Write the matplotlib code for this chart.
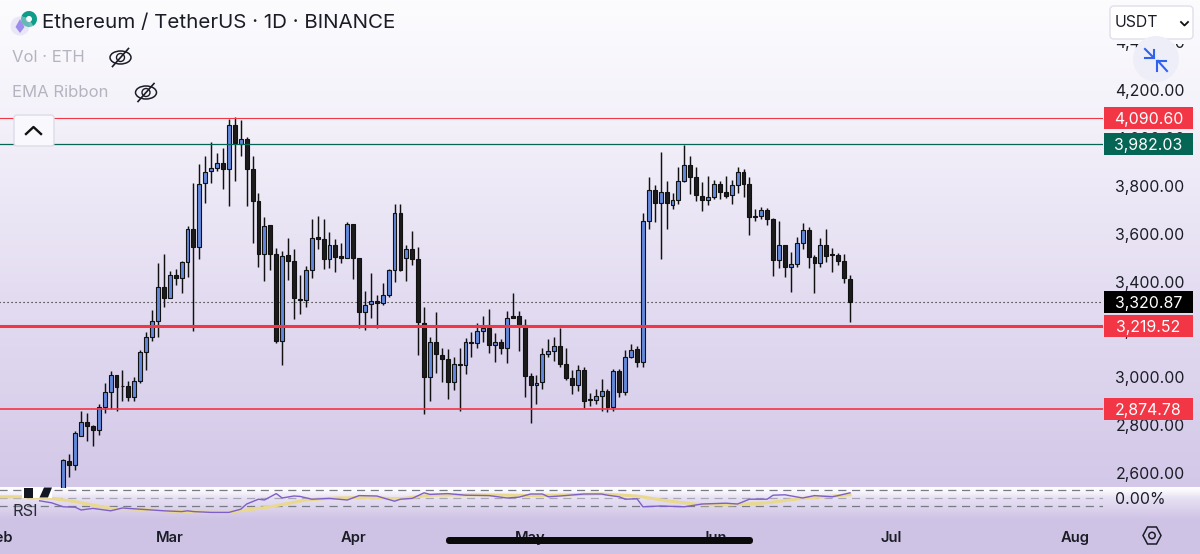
import numpy as np
import matplotlib
matplotlib.use("Agg")
import matplotlib.pyplot as plt
from matplotlib.patches import Rectangle, FancyBboxPatch, Circle, Ellipse, Polygon, Wedge
from matplotlib.transforms import ScaledTranslation

plt.rcParams['font.family'] = ['Inter', 'DejaVu Sans']

# daily candles, day 0 = 12 Feb
opens = [2500, 2658, 2642, 2762, 2820, 2802, 2788, 2881, 2946, 3015, 2972, 2969, 2923, 2993, 3114, 3177, 3243, 3383, 3340, 3433,
         3423, 3487, 3627, 3553, 3818, 3868, 3882, 3904, 3879, 4063, 3982, 4002, 3879, 3742, 3524, 3643, 3521, 3160, 3517, 3493,
         3335, 3330, 3455, 3592, 3586, 3501, 3559, 3513, 3507, 3646, 3504, 3279, 3312, 3325, 3319, 3350, 3455, 3695, 3507, 3543,
         3501, 3235, 3007, 3154, 3101, 3085, 2986, 3064, 3058, 3154, 3149, 3200, 3214, 3142, 3154, 3131, 3263, 3263, 3225, 3014,
         2973, 2986, 3104, 3117, 3136, 3062, 3005, 2975, 3036, 2916, 2912, 2930, 2950, 2882, 3032, 2946, 3092, 3124, 3071, 3661,
         3788, 3737, 3783, 3728, 3748, 3826, 3893, 3844, 3766, 3749, 3762, 3815, 3780, 3767, 3811, 3865, 3813, 3682, 3681, 3705,
         3668, 3497, 3559, 3469, 3480, 3568, 3622, 3511, 3483, 3559, 3521, 3518, 3494, 3419]
closes = [2660, 2642, 2775, 2820, 2802, 2788, 2881, 2944, 3015, 2968, 2969, 2923, 2993, 3113, 3175, 3241, 3383, 3340, 3433, 3423,
          3487, 3627, 3553, 3816, 3866, 3882, 3904, 3879, 4063, 3985, 4002, 3879, 3742, 3524, 3640, 3521, 3160, 3515, 3493, 3337,
          3330, 3455, 3589, 3586, 3501, 3559, 3511, 3507, 3646, 3505, 3279, 3309, 3326, 3319, 3350, 3455, 3695, 3455, 3543, 3503,
          3237, 3007, 3154, 3103, 3085, 2986, 3062, 3060, 3156, 3149, 3200, 3214, 3142, 3154, 3131, 3255, 3255, 3225, 3014, 2973,
          2984, 3103, 3116, 3136, 3062, 3005, 2975, 3036, 2909, 2912, 2930, 2950, 2882, 3032, 2946, 3090, 3122, 3071, 3660, 3788,
          3737, 3783, 3737, 3747, 3826, 3893, 3844, 3767, 3749, 3760, 3815, 3781, 3766, 3809, 3865, 3815, 3677, 3678, 3705, 3670,
          3497, 3559, 3469, 3480, 3568, 3622, 3511, 3483, 3559, 3514, 3517, 3494, 3421, 3322]
highs = [2664, 2686, 2784, 2867, 2856, 2808, 2895, 2984, 3032, 3018, 3037, 2993, 3007, 3121, 3195, 3288, 3486, 3522, 3450, 3461,
         3494, 3639, 3820, 3898, 3932, 3991, 3943, 3964, 4085, 4093, 4082, 4010, 3932, 3778, 3676, 3643, 3546, 3536, 3588, 3542,
         3436, 3472, 3667, 3681, 3667, 3613, 3584, 3567, 3656, 3646, 3505, 3369, 3444, 3350, 3400, 3461, 3730, 3730, 3560, 3617,
         3553, 3302, 3174, 3279, 3128, 3124, 3093, 3128, 3170, 3196, 3235, 3263, 3294, 3191, 3166, 3283, 3358, 3285, 3249, 3024,
         3018, 3128, 3167, 3174, 3213, 3129, 3037, 3058, 3049, 2943, 2957, 2998, 2957, 3040, 3040, 3121, 3145, 3138, 3695, 3843,
         3811, 3948, 3828, 3778, 3885, 3978, 3932, 3887, 3824, 3848, 3831, 3828, 3848, 3831, 3885, 3879, 3843, 3709, 3720, 3714,
         3673, 3659, 3561, 3532, 3592, 3650, 3636, 3517, 3588, 3625, 3546, 3525, 3521, 3434]
lows = [2470, 2591, 2620, 2762, 2742, 2720, 2766, 2859, 2876, 2867, 2908, 2907, 2907, 2984, 3037, 3160, 3177, 3299, 3337, 3391,
        3360, 3425, 3202, 3500, 3737, 3820, 3870, 3793, 3723, 3828, 3932, 3723, 3569, 3469, 3411, 3455, 3152, 3058, 3414, 3252,
        3271, 3299, 3421, 3544, 3461, 3465, 3447, 3486, 3505, 3416, 3212, 3205, 3253, 3212, 3308, 3341, 3406, 3450, 3411, 3476,
        3100, 2854, 2909, 3026, 2988, 2916, 2954, 2867, 3021, 3090, 3131, 3153, 3107, 3072, 3104, 3068, 3253, 3116, 2923, 2817,
        2895, 2959, 3093, 3075, 3049, 2996, 2938, 2951, 2879, 2887, 2895, 2867, 2863, 2867, 2923, 2934, 3088, 3051, 3049, 3625,
        3655, 3500, 3627, 3712, 3732, 3824, 3774, 3745, 3703, 3726, 3752, 3753, 3757, 3731, 3778, 3762, 3600, 3660, 3670, 3643,
        3432, 3462, 3427, 3363, 3469, 3544, 3465, 3358, 3467, 3487, 3448, 3476, 3402, 3239]

# horizontal levels
level_prices = [4090.60, 3982.03, 3219.52, 2874.78]
level_colors = ["#f23645", "#056656", "#f23645", "#f23645"]
level_widths = [0.8, 0.9, 2.2, 1.2]
last_price = 3320.87

# rsi readings
rsi_days = [-4, -2, 0, 2, 3, 5, 8, 10, 13, 17, 20, 21, 22, 25, 28, 30, 31, 33, 34, 36, 37, 39, 40, 42, 45, 48, 50, 53, 56, 57, 59,
            61, 62, 65, 68, 72, 75, 77, 79, 81, 82, 84, 88, 91, 92, 94, 95, 97, 98, 101, 105, 108, 112, 114, 116, 119, 120, 122,
            125, 127, 130, 131, 133]
rsi_vals = [43, 38, 28, 27, 20, 24, 18, 25, 22, 18, 16, 18, 16, 14, 14, 22, 35, 47, 45, 61, 50, 55, 54, 47, 49, 45, 56, 55, 42, 47,
            49, 63, 59, 61, 57, 56, 50, 52, 60, 60, 53, 55, 60, 60, 57, 53, 47, 48, 28, 30, 28, 35, 37, 35, 47, 47, 57, 58, 50, 56,
            53, 56, 63]
ma_days = [-11, -7, -2, 2, 8, 11, 17, 21, 28, 35, 41, 46, 51, 57, 62, 70, 80, 91, 97, 102, 108, 113, 119, 125, 133]
ma_vals = [53, 53, 49, 41, 24, 23, 18, 15, 14, 28, 45, 50, 51, 48, 57, 58, 56, 60, 55, 43, 33, 33, 38, 49, 58]

# axis labels
price_ticks = [2600, 2800, 3000, 3200, 3400, 3600, 3800, 4000, 4200, 4400]
month_days = [-10.7, 18, 49, 79, 110, 140, 171]
month_names = ["Feb", "Mar", "Apr", "May", "Jun", "Jul", "Aug"]

W, H = 1200, 554
fig = plt.figure(figsize=(W / 100, H / 100), dpi=100)

# page background
bg = fig.add_axes([0, 0, 1, 1], zorder=0)
stops_y = [0, 90, 300, 486, 487, 491, 497, 518, 554]
stops_c = np.array([[252, 252, 254], [246, 244, 251], [227, 220, 241], [211, 200, 232], [255, 255, 255], [248, 246, 252],
                    [232, 226, 244], [208, 196, 230], [206, 194, 229]]) / 255
rows = np.arange(H)
grad = np.stack([np.interp(rows, stops_y, stops_c[:, i]) for i in range(3)], axis=1)[:, None, :]
bg.imshow(grad, aspect="auto", extent=[0, W, H, 0])
bg.axis("off")

left = -5
right = 1103
xlim = (-11.55, 175.78)
ax = fig.add_axes([left / W, (H - 488) / H, (right - left) / W, 488 / H], zorder=1)
ax.patch.set_alpha(0)
ax.set_xlim(xlim)
ax.set_ylim(2544.3, 4583.7)

# candles
days = np.arange(len(opens))
opens = np.array(opens)
closes = np.array(closes)
up = closes >= opens
ax.vlines(days, lows, highs, color="#111111", lw=1.05, zorder=3)
ax.bar(days, np.abs(closes - opens), bottom=np.minimum(opens, closes), width=0.66,
       color=np.where(up, "#6389dc", "#1c1c1c"), edgecolor="#111111", linewidth=0.8, zorder=4)

for price, col, lw in zip(level_prices, level_colors, level_widths):
    ax.axhline(price, color=col, lw=lw, zorder=5)
ax.axhline(last_price, color="#111111", lw=0.8, ls=(0, (1, 2.6)), zorder=2)

for s in ax.spines.values():
    s.set_visible(False)
ax.set_xticks([])
ax.yaxis.tick_right()
ax.set_yticks(price_ticks)
ax.set_yticklabels([f"{p:,.2f}" for p in price_ticks])
ax.tick_params(axis="y", length=0, pad=9, labelsize=11.4, labelcolor="#1b1d26")
nudge_up = ScaledTranslation(0, 1.5 / 100, fig.dpi_scale_trans)
for lab in ax.get_yticklabels():
    lab.set_transform(lab.get_transform() + nudge_up)

# price tags
tag_prices = level_prices + [last_price]
tag_colors = level_colors + ["#000000"]
for price, col in zip(tag_prices, tag_colors):
    tr = ax.get_yaxis_transform()
    ax.add_patch(Rectangle(((1104 - left) / (right - left), price - 46), 89 / (right - left), 92, transform=tr,
                           facecolor=col, edgecolor="none", clip_on=False, zorder=6))
    ax.text((1148.5 - left) / (right - left), price, f"{price:,.2f}", transform=tr, color="white", ha="center",
            va="center_baseline", fontsize=11.4, clip_on=False, zorder=7)

# rsi pane
rsi_ax = fig.add_axes([left / W, (H - 520) / H, (right - left) / W, 32 / H], zorder=2)
rsi_ax.patch.set_alpha(0)
rsi_ax.set_xlim(xlim)
rsi_ax.set_ylim(-5, 75)
rsi_ax.axhline(70, color="#787b86", lw=0.9, ls=(0, (6.5, 4.5)))
rsi_ax.axhline(50, color="#a9a6b8", lw=0.9, ls=(0, (6.5, 4.5)))
rsi_ax.axhline(30, color="#787b86", lw=0.9, ls=(0, (6.5, 4.5)))
rsi_ax.plot(ma_days, ma_vals, color="#e9d98f", lw=2.2, zorder=3)
rsi_ax.plot(rsi_days, rsi_vals, color="#7e5fc9", lw=1.0, zorder=4)
for s in rsi_ax.spines.values():
    s.set_visible(False)
rsi_ax.yaxis.tick_right()
rsi_ax.set_yticks([50])
rsi_ax.set_yticklabels(["0.00%"])
rsi_ax.tick_params(axis="y", length=0, pad=9, labelsize=11.4, labelcolor="#1b1d26")
rsi_ax.set_xticks(month_days)
rsi_ax.set_xticklabels(month_names, fontweight="semibold")
rsi_ax.tick_params(axis="x", length=0, pad=8, labelsize=10.6, labelcolor="#1b1d26")

# chart furniture, in image pixels
ui = fig.add_axes([0, 0, 1, 1], zorder=3)
ui.set_xlim(0, W)
ui.set_ylim(H, 0)
ui.axis("off")

# symbol logo
ui.add_patch(Circle((20, 26), 9.5, fc="#e9e6f6", ec="none"))
ui.add_patch(Polygon([(20, 19), (24.5, 27), (20, 33), (15.5, 27)], fc="#9c8cec", ec="none"))
ui.add_patch(Wedge((29, 19), 8, 200, 60, width=5, fc="#0e9c8b", ec="none"))
ui.add_patch(Wedge((29, 19), 8, 60, 200, width=5, fc="#0e9c8b", ec="none", alpha=0.6))
ui.text(42, 23.5, "Ethereum / TetherUS · 1D · BINANCE", fontsize=14.8, color="#1b1d26", va="center", ha="left")

ui.text(12, 58, "Vol · ETH", fontsize=12, color="#b5b3bf", va="center")
ui.text(12, 92.5, "EMA Ribbon", fontsize=12, color="#b5b3bf", va="center")
for cx, cy in [(120.5, 57.5), (146, 92.5)]:
    ui.add_patch(Ellipse((cx, cy), 21, 13, fc="none", ec="#1b1d26", lw=1.1))
    ui.add_patch(Ellipse((cx, cy), 8, 8, fc="none", ec="#1b1d26", lw=1.0))
    ui.plot([cx - 8, cx + 8], [cy + 9, cy - 9], color="#1b1d26", lw=1.2)

# collapse button
ui.add_patch(FancyBboxPatch((14, 115), 40, 31, boxstyle="round,pad=0,rounding_size=3", fc="#f9f8fd", ec="#dddce8", lw=1, zorder=5))
ui.plot([26, 33.5, 41], [134, 127, 134], color="#111111", lw=1.7, zorder=6)

# currency selector, the scale label runs under it
ui.add_patch(Rectangle((1108, 38), 87, 6, fc="#f9f8fc", ec="none", zorder=4))
ui.add_patch(FancyBboxPatch((1110, 6), 83, 33, boxstyle="round,pad=0,rounding_size=4", fc="#ffffff", ec="#dfe0ea", lw=1, zorder=5))
ui.text(1115, 22.5, "USDT", fontsize=11.4, color="#1b1d26", va="center", zorder=6)
ui.plot([1181, 1184.5, 1188], [22, 25.5, 22], color="#111111", lw=1.3, zorder=6)

# compress button
ui.add_patch(Circle((1156, 59), 23, fc="#eeeef8", ec="none", zorder=5))
ui.plot([1145, 1154, 1154], [49, 58, 50], color="#2f62ee", lw=1.5, zorder=6)
ui.plot([1145, 1154], [58, 58], color="#2f62ee", lw=1.5, zorder=6)
ui.plot([1167, 1158], [71, 61], color="#2f62ee", lw=1.5, zorder=6)
ui.plot([1157, 1157], [61, 71], color="#2f62ee", lw=1.5, zorder=6)
ui.plot([1157, 1166], [61, 61], color="#2f62ee", lw=1.5, zorder=6)

# watermark
ui.add_patch(Rectangle((22, 487), 30, 11, fc="white", ec="none", zorder=5))
ui.add_patch(Rectangle((24, 487.5), 8.5, 10, fc="#131722", ec="none", zorder=6))
ui.add_patch(Polygon([(44, 487.5), (52, 487.5), (48, 497.5), (39.5, 497.5)], fc="#131722", ec="none", zorder=6))
ui.text(12.5, 511, "RSI", fontsize=11.8, color="#2a2c38", va="center")

# settings icon
ui.add_patch(Polygon([(1143, 535.5), (1147.5, 527), (1156.5, 527), (1161, 535.5), (1156.5, 544), (1147.5, 544)],
                     fc="none", ec="#1b1d26", lw=1.1))
ui.add_patch(Circle((1152, 535.5), 3.2, fc="none", ec="#1b1d26", lw=1.1))

# phone home bar
ui.add_patch(FancyBboxPatch((446, 537), 307, 7, boxstyle="round,pad=0,rounding_size=3.5", fc="#0a0a0a", ec="none", zorder=6))

fig.savefig("out.png", dpi=100)
